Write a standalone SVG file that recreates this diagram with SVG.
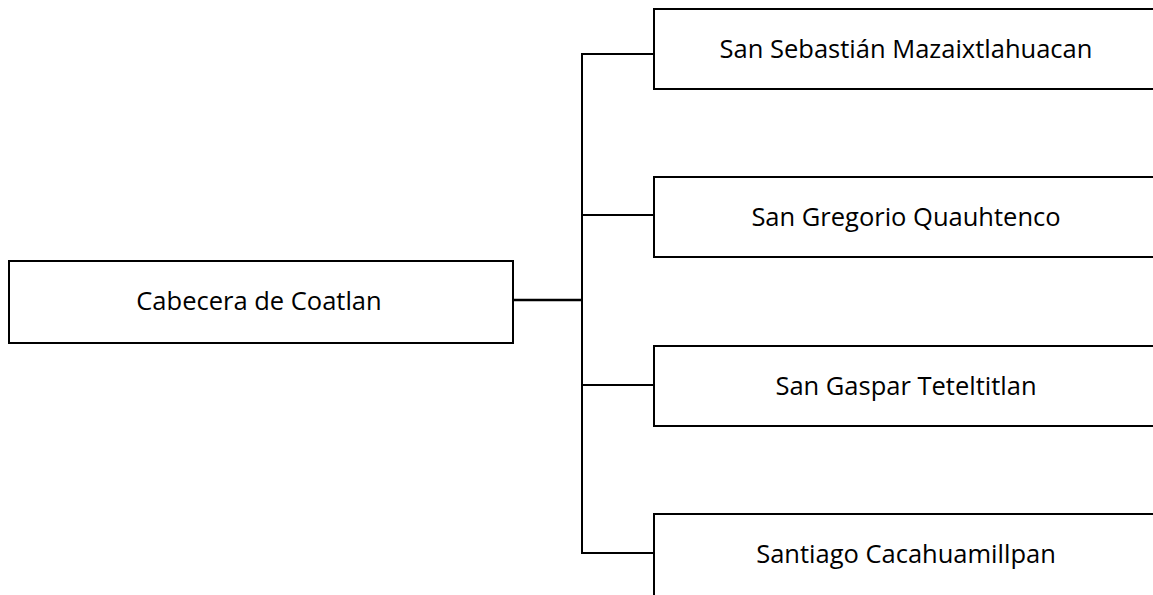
<svg xmlns="http://www.w3.org/2000/svg" width="1153" height="595" viewBox="0 0 1153 595">
<style>
.box{fill:#fff;stroke:#000;stroke-width:2}
.lbl{font-family:"Open Sans","Liberation Sans",sans-serif;font-size:25.5px;fill:#000;text-anchor:middle;dominant-baseline:central}
.conn{fill:none;stroke:#000;stroke-width:2}
</style>
<rect width="1153" height="595" fill="#fff"/>
<g id="connectors">
<line class="conn" x1="513" y1="300" x2="582" y2="300" style="stroke-width:2.5"/>
<line class="conn" x1="582" y1="53" x2="582" y2="554"/>
<line class="conn" x1="581" y1="54" x2="654" y2="54"/>
<line class="conn" x1="581" y1="215" x2="654" y2="215"/>
<line class="conn" x1="581" y1="385" x2="654" y2="385"/>
<line class="conn" x1="581" y1="553" x2="654" y2="553"/>
</g>
<g id="n0"><rect class="box" x="9" y="261" width="504" height="82"/><text class="lbl" x="259" y="300">Cabecera de Coatlan</text></g>
<g id="n1"><rect class="box" x="654" y="9" width="504" height="80"/><text class="lbl" x="906" y="48">San Sebastián Mazaixtlahuacan</text></g>
<g id="n2"><rect class="box" x="654" y="177" width="504" height="80"/><text class="lbl" x="906" y="216">San Gregorio Quauhtenco</text></g>
<g id="n3"><rect class="box" x="654" y="346" width="504" height="80"/><text class="lbl" x="906" y="385">San Gaspar Teteltitlan</text></g>
<g id="n4"><rect class="box" x="654" y="514" width="504" height="90"/><text class="lbl" x="906" y="553">Santiago Cacahuamillpan</text></g>
</svg>
